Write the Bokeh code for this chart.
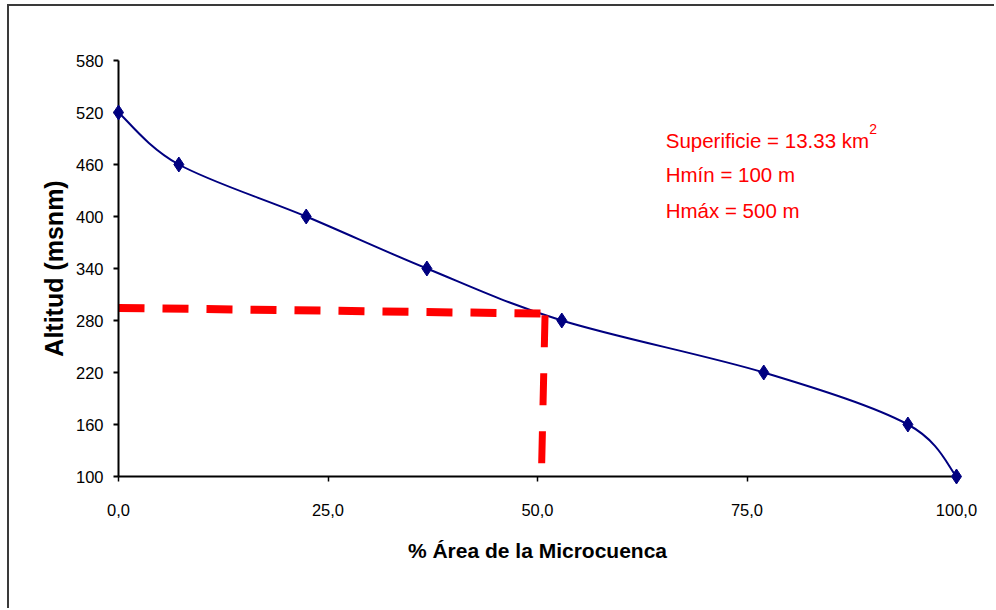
from bokeh.plotting import figure
from bokeh.models import FixedTicker, Range1d
from bokeh.core.properties import value
from bokeh.embed import file_html
from bokeh.resources import INLINE

# ---- data ----
area_pct = [0.0, 7.2, 22.4, 36.8, 52.9, 77.0, 94.2, 100.0]
altitud = [520, 460, 400, 340, 280, 220, 160, 100]

# red guide lines (median altitude read-off)
guide_h_x = [0.0, 50.5]
guide_h_y = [294.5, 288.0]
guide_v_x = [50.9, 50.5]
guide_v_y = [286.0, 115.0]

x_ticks = [0, 25, 50, 75, 100]
x_tick_labels = ["0,0", "25,0", "50,0", "75,0", "100,0"]
y_ticks = [100, 160, 220, 280, 340, 400, 460, 520, 580]

info_lines = ["Superificie = 13.33 km", "Hmín =  100 m", "Hmáx = 500 m"]
info_x = [65.3, 65.3, 65.3]
info_y = [487.5, 448.5, 407.0]

FONT = "Liberation Sans"

p = figure(width=987, height=604, output_backend="svg", toolbar_location=None,
           x_range=Range1d(0, 100), y_range=Range1d(100, 580),
           min_border_left=109, min_border_right=40, min_border_top=54, min_border_bottom=134)
p.styles = {"margin-left": "7px", "margin-top": "4px",
            "border-top": "2px solid #3a3a3a", "border-left": "2px solid #3a3a3a"}
p.outline_line_color = None
p.xgrid.visible = False
p.ygrid.visible = False

# smoothed curve (Excel-style smoothed line) built from the data points
n = len(area_pct)
ext_x = [area_pct[0]] + area_pct + [area_pct[-1]]
ext_y = [altitud[0]] + altitud + [altitud[-1]]
x0, y0, x1, y1, cx0, cy0, cx1, cy1 = [], [], [], [], [], [], [], []
for i in range(n - 1):
    j = i + 1
    x0.append(ext_x[j]); y0.append(ext_y[j])
    x1.append(ext_x[j + 1]); y1.append(ext_y[j + 1])
    cx0.append(ext_x[j] + (ext_x[j + 1] - ext_x[j - 1]) / 6.0)
    cy0.append(ext_y[j] + (ext_y[j + 1] - ext_y[j - 1]) / 6.0)
    cx1.append(ext_x[j + 1] - (ext_x[j + 2] - ext_x[j]) / 6.0)
    cy1.append(ext_y[j + 1] - (ext_y[j + 2] - ext_y[j]) / 6.0)
p.bezier(x0=x0, y0=y0, x1=x1, y1=y1, cx0=cx0, cy0=cy0, cx1=cx1, cy1=cy1,
         line_color="#000080", line_width=2)

# red dashed guides
p.line(guide_h_x, guide_h_y, line_color="#FF0000", line_width=8, line_dash="26 18")
p.line(guide_v_x, guide_v_y, line_color="#FF0000", line_width=7, line_dash="32 26")

# markers drawn above the axes, not clipped at the frame edge
p.scatter(area_pct, altitud, marker="diamond", size=15, fill_color="#000080",
          line_color="#000080", level="overlay")

# info text
p.text(info_x, info_y, text=info_lines, text_color="#FF0000",
       text_font=value(FONT), text_font_size="20.5px", text_baseline="alphabetic")
p.text([89.6], [500.5], text=["2"], text_color="#FF0000",
       text_font=value(FONT), text_font_size="14px", text_baseline="alphabetic")

# axes
for ax in (p.xaxis[0], p.yaxis[0]):
    ax.axis_line_color = "black"
    ax.axis_line_width = 2
    ax.major_tick_line_color = "black"
    ax.major_tick_in = 0
    ax.major_tick_out = 5
    ax.minor_tick_line_color = None
    ax.major_label_text_font = FONT
    ax.major_label_text_font_size = "16.5px"
    ax.major_label_text_color = "black"
    ax.axis_label_text_font = FONT
    ax.axis_label_text_font_style = "bold"
    ax.axis_label_text_color = "black"

p.xaxis.ticker = FixedTicker(ticks=x_ticks)
p.xaxis.major_label_overrides = {t: l for t, l in zip(x_ticks, x_tick_labels)}
p.xaxis.major_label_standoff = 22
p.xaxis.major_tick_line_width = 1.5
p.xaxis.axis_label = "% Área de la Microcuenca"
p.xaxis.axis_label_text_font_size = "21px"
p.xaxis.axis_label_standoff = 20

p.yaxis.ticker = FixedTicker(ticks=y_ticks)
p.yaxis.major_label_standoff = 10
p.yaxis.major_tick_line_width = 2
p.yaxis.axis_label = "Altitud (msnm)"
p.yaxis.axis_label_text_font_size = "25px"
p.yaxis.axis_label_standoff = 5

open("out.html", "w").write(file_html(p, INLINE))
